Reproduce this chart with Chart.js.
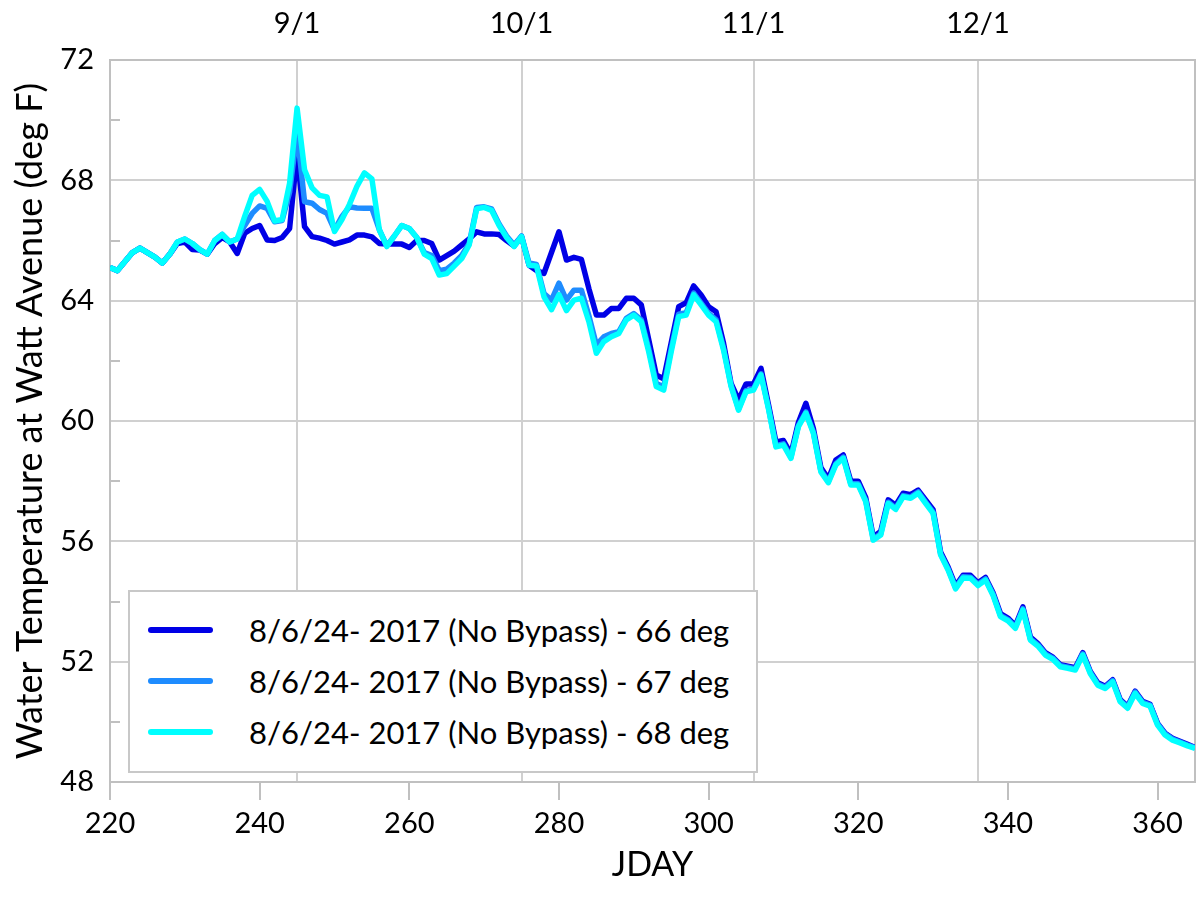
<!DOCTYPE html>
<html>
<head>
<meta charset="utf-8">
<script src="https://cdn.jsdelivr.net/npm/chart.js@4.4.1/dist/chart.umd.min.js"></script>
<style>
  body { margin: 0; background: #fff; }
  #wrap { position: relative; width: 1196px; height: 905px; }
  #legend {
    position: absolute; left: 128px; top: 590px; width: 630px; height: 183px;
    border: 2px solid #c8c8c8; background: #fff; box-sizing: border-box;
    font-family: Lato, sans-serif; font-size: 31px; color: #000;
  }
  .item { position: absolute; left: 18px; display: flex; align-items: center; height: 40px; }
  .swatch { width: 65px; height: 6px; border-radius: 3px; margin-right: 36px; }
</style>
</head>
<body>
<div id="wrap">
  <canvas id="chart" width="1196" height="905"></canvas>
  <div id="legend"></div>
</div>
<script>
// Données (JDAY 220 -> 365)
const days = Array.from({ length: 146 }, (_, i) => 220 + i);

const temp66 = [
  65.1, 65.0, 65.3, 65.6, 65.75, 65.6, 65.45, 65.25, 65.55, 65.9,
  65.95, 65.7, 65.68, 65.55, 65.9, 66.1, 65.95, 65.57, 66.24, 66.4,
  66.5, 66.02, 66.0, 66.1, 66.4, 68.9, 66.46, 66.13, 66.08, 66.0,
  65.88, 65.95, 66.02, 66.18, 66.18, 66.12, 65.9, 65.88, 65.88, 65.88,
  65.77, 66.0, 66.0, 65.9, 65.35, 65.5, 65.65, 65.85, 66.05, 66.29,
  66.22, 66.22, 66.2, 66.0, 65.82, 66.13, 65.18, 65.0, 64.91, 65.6,
  66.29, 65.35, 65.44, 65.37, 64.4, 63.52, 63.52, 63.74, 63.74, 64.08,
  64.08, 63.86, 62.7, 61.53, 61.4, 62.6, 63.8, 63.93, 64.49, 64.19,
  63.8, 63.63, 62.58, 61.25, 60.7, 61.23, 61.23, 61.75, 60.55, 59.3,
  59.35, 58.9, 59.95, 60.59, 59.75, 58.45, 58.08, 58.7, 58.87, 58.0,
  58.0, 57.45, 56.15, 56.33, 57.38, 57.2, 57.6, 57.55, 57.7, 57.38,
  57.05, 55.65, 55.15, 54.52, 54.87, 54.87, 54.62, 54.8, 54.3, 53.6,
  53.45, 53.2, 53.82, 52.82, 52.6, 52.3, 52.15, 51.9, 51.85, 51.8,
  52.3, 51.68, 51.3, 51.18, 51.4, 50.74, 50.52, 51.02, 50.68, 50.58,
  49.95, 49.62, 49.45, 49.35, 49.25, 49.15
];

const temp67 = [
  65.1, 65.0, 65.3, 65.6, 65.75, 65.6, 65.45, 65.25, 65.55, 65.95,
  66.05, 65.9, 65.7, 65.55, 66.0, 66.2, 65.95, 66.05, 66.5, 66.9,
  67.15, 67.07, 66.62, 66.66, 67.6, 69.6, 67.29, 67.24, 67.03, 66.9,
  66.35, 66.8, 67.12, 67.08, 67.07, 67.07, 66.35, 65.82, 66.15, 66.5,
  66.4, 66.1, 65.6, 65.5, 65.0, 65.05, 65.25, 65.5, 65.9, 67.1,
  67.12, 67.05, 66.55, 66.15, 65.85, 66.15, 65.25, 65.2, 64.24, 64.02,
  64.58, 64.02, 64.35, 64.35, 63.5, 62.53, 62.8, 62.91, 62.97, 63.41,
  63.57, 63.36, 62.4, 61.25, 61.14, 62.4, 63.55, 63.6, 64.25, 63.92,
  63.58, 63.36, 62.42, 61.19, 60.4, 61.01, 61.07, 61.57, 60.44, 59.18,
  59.24, 58.8, 59.85, 60.3, 59.63, 58.35, 57.99, 58.58, 58.8, 57.91,
  57.91, 57.36, 56.08, 56.25, 57.3, 57.1, 57.52, 57.47, 57.64, 57.3,
  56.97, 55.59, 55.09, 54.46, 54.82, 54.81, 54.57, 54.75, 54.25, 53.54,
  53.4, 53.15, 53.76, 52.76, 52.56, 52.26, 52.12, 51.87, 51.82, 51.76,
  52.26, 51.65, 51.26, 51.15, 51.37, 50.71, 50.49, 50.99, 50.65, 50.56,
  49.93, 49.6, 49.43, 49.33, 49.23, 49.14
];

const temp68 = [
  65.1, 65.0, 65.3, 65.6, 65.75, 65.6, 65.45, 65.25, 65.55, 65.95,
  66.05, 65.9, 65.7, 65.55, 66.0, 66.2, 65.95, 66.05, 66.8, 67.5,
  67.7, 67.3, 66.65, 66.7, 67.9, 70.4, 68.35, 67.75, 67.5, 67.45,
  66.3, 66.7, 67.2, 67.8, 68.25, 68.05, 66.35, 65.8, 66.15, 66.5,
  66.4, 66.1, 65.55, 65.4, 64.85, 64.9, 65.15, 65.4, 65.85, 67.05,
  67.1, 67.0, 66.5, 66.1, 65.8, 66.13, 65.18, 65.15, 64.13, 63.7,
  64.2, 63.67, 64.02, 64.08, 63.3, 62.25, 62.64, 62.8, 62.91, 63.36,
  63.52, 63.3, 62.3, 61.15, 61.03, 62.3, 63.47, 63.52, 64.19, 63.86,
  63.52, 63.3, 62.35, 61.15, 60.36, 60.97, 61.03, 61.53, 60.4, 59.14,
  59.2, 58.76, 59.81, 60.26, 59.59, 58.31, 57.95, 58.54, 58.76, 57.87,
  57.87, 57.32, 56.04, 56.21, 57.26, 57.06, 57.48, 57.43, 57.6, 57.26,
  56.93, 55.55, 55.05, 54.42, 54.78, 54.77, 54.53, 54.71, 54.21, 53.5,
  53.36, 53.11, 53.72, 52.72, 52.52, 52.22, 52.08, 51.83, 51.78, 51.72,
  52.22, 51.61, 51.22, 51.11, 51.33, 50.67, 50.45, 50.95, 50.61, 50.52,
  49.89, 49.56, 49.39, 49.3, 49.2, 49.12
];

const seriesLabels = [
  '8/6/24- 2017 (No Bypass) - 66 deg',
  '8/6/24- 2017 (No Bypass) - 67 deg',
  '8/6/24- 2017 (No Bypass) - 68 deg'
];
const seriesColors = ['#0000e6', '#1e8cff', '#00ffff'];

const xTicks = [220, 240, 260, 280, 300, 320, 340, 360];
const dateTicks = [245, 275, 306, 336];
const dateLabels = ['9/1', '10/1', '11/1', '12/1'];
const yTicks = [48, 52, 56, 60, 64, 68, 72];
const yMinor = [50, 54, 58, 62, 66, 70];

const FONT = 'Lato, sans-serif';
const GRID = '#d0d0d0';
const BORDER = '#c0c0c0';

// Petits traits intérieurs sur l'axe Y
const minorTicks = {
  id: 'minorTicks',
  beforeDatasetsDraw(chart) {
    const { ctx, chartArea, scales } = chart;
    ctx.save();
    ctx.strokeStyle = BORDER;
    ctx.lineWidth = 2;
    yMinor.forEach(v => {
      const y = Math.round(scales.y.getPixelForValue(v));
      ctx.beginPath();
      ctx.moveTo(chartArea.left, y);
      ctx.lineTo(chartArea.left + 10, y);
      ctx.stroke();
    });
    ctx.restore();
  }
};

const allSeries = [temp66, temp67, temp68];
const datasets = allSeries.map((vals, i) => ({
  label: seriesLabels[i],
  data: days.map((d, j) => ({ x: d, y: vals[j] })),
  borderColor: seriesColors[i],
  backgroundColor: seriesColors[i],
  borderWidth: 5.5,
  borderJoinStyle: 'round',
  pointRadius: 0,
  tension: 0,
  order: 3 - i
}));

const ctx = document.getElementById('chart').getContext('2d');
const chart = new Chart(ctx, {
  type: 'line',
  data: { datasets },
  options: {
    responsive: false,
    animation: false,
    layout: { padding: 0 },
    plugins: { legend: { display: false }, tooltip: { enabled: false } },
    scales: {
      x: {
        type: 'linear', position: 'bottom', min: 220, max: 365,
        afterBuildTicks: s => { s.ticks = xTicks.map(v => ({ value: v })); },
        afterFit: s => { s.height = 123; },
        ticks: { font: { family: FONT, size: 29 }, color: '#000', padding: 6, maxRotation: 0 },
        grid: { drawOnChartArea: false, drawTicks: true, tickLength: 18, color: BORDER, lineWidth: 2 },
        border: { color: BORDER, width: 2 },
        title: { display: true, text: 'JDAY', font: { family: FONT, size: 34 }, color: '#000', padding: { top: 0, bottom: 20 } }
      },
      x2: {
        type: 'linear', position: 'top', min: 220, max: 365,
        afterBuildTicks: s => { s.ticks = dateTicks.map(v => ({ value: v })); },
        afterFit: s => { s.height = 60; },
        ticks: {
          font: { family: FONT, size: 29 }, color: '#000', padding: 19, maxRotation: 0,
          callback: (v) => dateLabels[dateTicks.indexOf(v)]
        },
        grid: { drawOnChartArea: true, drawTicks: false, color: GRID, lineWidth: 2 },
        border: { color: BORDER, width: 2 }
      },
      y: {
        type: 'linear', position: 'left', min: 48, max: 72,
        afterBuildTicks: s => { s.ticks = yTicks.map(v => ({ value: v })); },
        afterFit: s => { s.width = 110; },
        ticks: { font: { family: FONT, size: 29 }, color: '#000', padding: 16 },
        grid: { drawTicks: false, color: GRID, lineWidth: 2 },
        border: { color: BORDER, width: 2 },
        title: {
          display: true, text: 'Water Temperature at Watt Avenue (deg F)',
          font: { family: FONT, size: 36 }, color: '#000', padding: { top: 9, bottom: 0 }
        }
      },
      y2: {
        type: 'linear', position: 'right', min: 48, max: 72,
        afterFit: s => { s.width = 1; },
        ticks: { display: false },
        grid: { drawOnChartArea: false, drawTicks: false },
        border: { color: BORDER, width: 2 }
      }
    }
  },
  plugins: [minorTicks]
});

// Légende HTML dans le cadre
const legend = document.getElementById('legend');
seriesLabels.forEach((lab, i) => {
  const item = document.createElement('div');
  item.className = 'item';
  item.style.top = (18 + i * 51) + 'px';
  item.innerHTML = `<span class="swatch" style="background:${seriesColors[i]}"></span><span>${lab}</span>`;
  legend.appendChild(item);
});
</script>
</body>
</html>
